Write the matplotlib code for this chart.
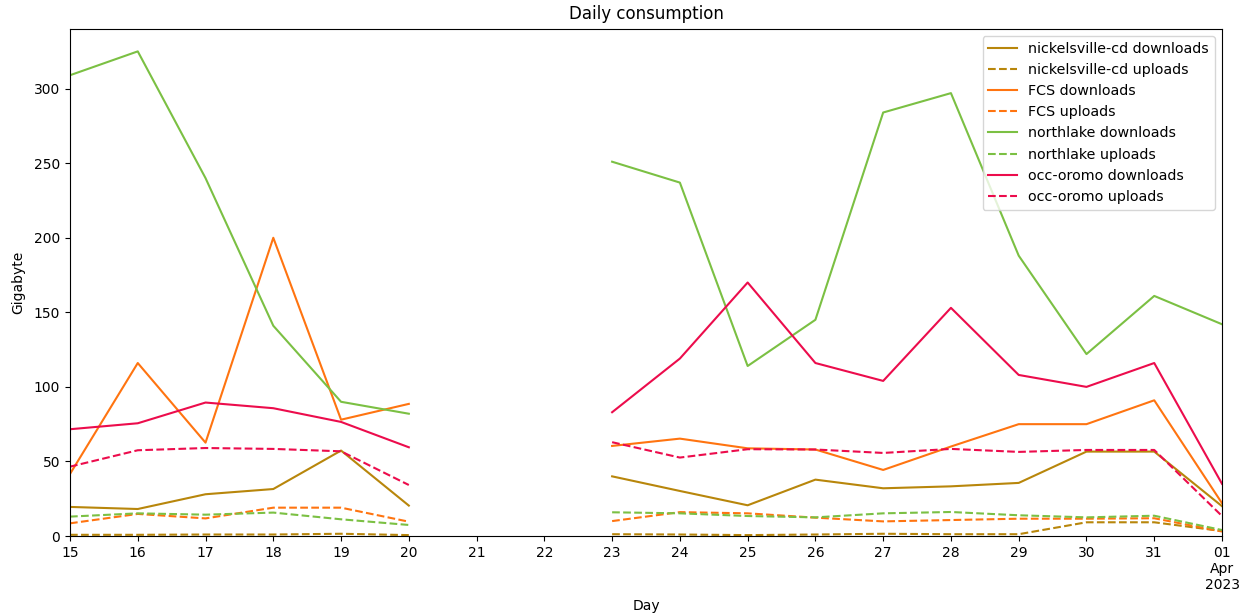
import numpy as np
import pandas as pd
import matplotlib
matplotlib.use("Agg")
import matplotlib.pyplot as plt
import matplotlib.dates as mdates
from matplotlib.ticker import FuncFormatter

nan = np.nan
days = pd.date_range("2023-03-15", "2023-04-01", freq="D")

# Daily totals in gigabytes (no data for 21 and 22 March)
nickelsville_down = [19.5, 18.1, 28.0, 31.5, 57.3, 20.4, nan, nan, 40.0, 30.2, 20.6, 37.8, 32.0, 33.3, 35.6, 56.6, 56.6, 20.0]
nickelsville_up = [0.8, 0.8, 1.0, 1.0, 1.5, 0.6, nan, nan, 1.2, 1.0, 0.6, 1.0, 1.5, 1.2, 1.2, 9.2, 9.2, 3.3]
fcs_down = [41.6, 116.0, 62.6, 200.0, 78.0, 88.6, nan, nan, 60.4, 65.3, 58.8, 58.0, 44.3, 60.0, 75.0, 75.0, 91.0, 22.0]
fcs_up = [8.5, 14.8, 11.8, 19.0, 19.0, 9.6, nan, nan, 10.0, 16.0, 15.2, 12.3, 9.8, 10.7, 11.6, 11.6, 11.9, 3.0]
northlake_down = [309.0, 325.0, 240.0, 141.0, 90.0, 82.0, nan, nan, 251.0, 237.0, 114.0, 145.0, 284.0, 297.0, 188.0, 122.0, 161.0, 142.0]
northlake_up = [13.0, 15.2, 14.3, 15.7, 11.2, 7.4, nan, nan, 15.9, 15.2, 13.4, 12.5, 15.2, 16.1, 13.9, 12.5, 13.6, 4.0]
oromo_down = [71.6, 75.6, 89.5, 85.7, 76.5, 59.5, nan, nan, 83.0, 119.0, 170.0, 116.0, 104.0, 153.0, 108.0, 100.0, 116.0, 35.0]
oromo_up = [46.5, 57.5, 59.0, 58.4, 56.8, 34.2, nan, nan, 62.9, 52.6, 58.2, 58.0, 55.7, 58.4, 56.4, 57.7, 57.7, 13.4]

sites = [
    ("nickelsville-cd", "#b8860b", nickelsville_down, nickelsville_up),
    ("FCS", "#ff7410", fcs_down, fcs_up),
    ("northlake", "#7bc043", northlake_down, northlake_up),
    ("occ-oromo", "#ec0c4c", oromo_down, oromo_up),
]

fig = plt.figure(figsize=(12.51, 6.13), dpi=100)
ax = fig.add_axes([70 / 1251, 1 - 536 / 613, (1222 - 70) / 1251, (536 - 29) / 613])

for name, color, down, up in sites:
    ax.plot(days, down, color=color, lw=1.5, label=f"{name} downloads")
    ax.plot(days, up, color=color, lw=1.5, ls="--", label=f"{name} uploads")

ax.set_xlim(days[0], days[-1])
ax.set_ylim(0, 340)
ax.xaxis.set_major_locator(mdates.DayLocator())


def day_label(x, pos):
    d = mdates.num2date(x)
    if d.day == 1:
        return d.strftime("%d\n%b\n%Y")
    return d.strftime("%d")


ax.xaxis.set_major_formatter(FuncFormatter(day_label))
ax.set_xlabel("Day", labelpad=5)
ax.set_ylabel("Gigabyte", labelpad=6)
ax.set_title("Daily consumption", fontsize=12, pad=7)
ax.legend(loc="upper right", fontsize=10.3)

fig.savefig("out.png", dpi=100)
